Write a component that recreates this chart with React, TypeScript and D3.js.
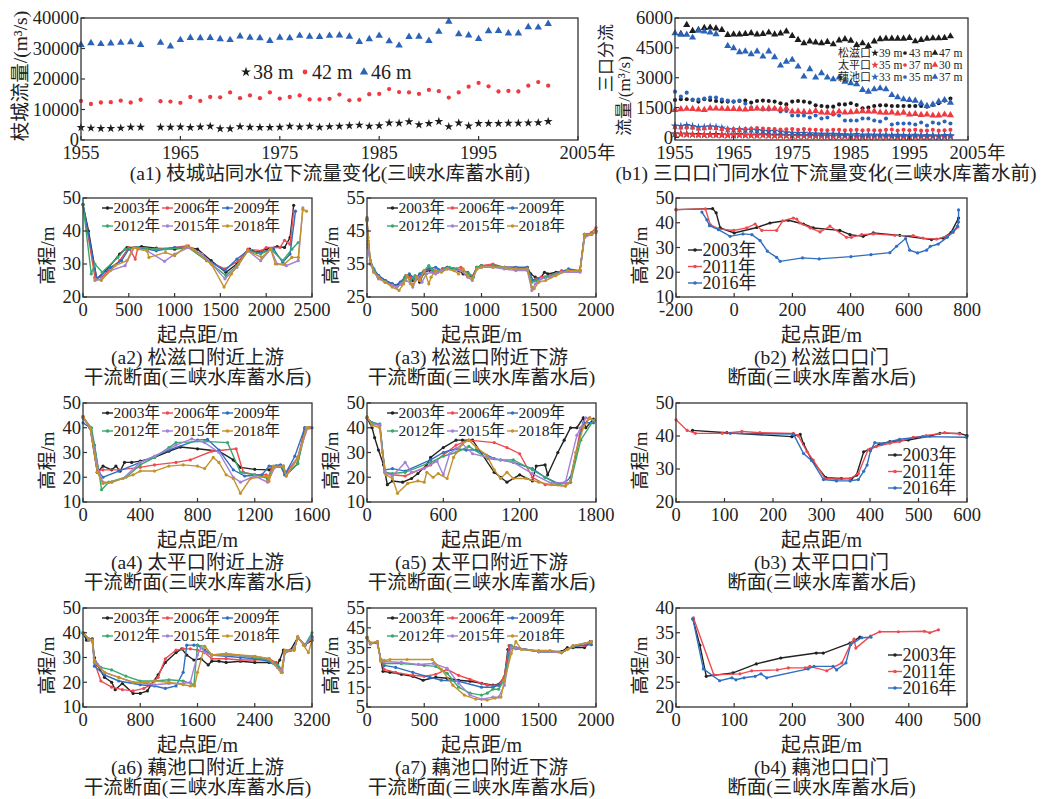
import * as React from "react";
import * as d3 from "d3";

type Pt = [number, number];

const SERIF = "'Liberation Serif','Noto Sans CJK SC',serif";
const INK = "#222";
const AXIS = "#333";

// ---------- (a1) 枝城站: year, flow (thousand m3/s) ----------
const A1_YEARS = d3.range(1955, 2003).filter((y) => y !== 1962);
const A1_38M = [4.1, 3.9, 3.8, 3.8, 3.9, 4.2, 4.2, 4.2, 4.2, 4.3, 4.1, 4.3, 4.5, 3.7, 3.7, 4.4, 4.2, 4.1, 4.1, 4.2, 4.5, 4.3, 4.5, 4.2, 4.4, 4.5, 4.7, 4.9, 4.5, 4.7, 5.6, 5.5, 6.0, 5.0, 5.4, 6.1, 4.4, 5.6, 4.6, 5.4, 5.4, 5.4, 5.5, 5.5, 5.6, 5.7, 6.1];
const A1_42M = [12.8, 11.8, 12.3, 12.4, 12.9, 12.3, 13.2, 12.7, 12.6, 12.2, 14.1, 12.8, 14.1, 14.0, 15.6, 13.7, 14.6, 13.7, 15.6, 13.6, 14.1, 14.6, 13.3, 13.3, 13.5, 14.9, 13.0, 13.2, 15.0, 15.1, 16.7, 15.7, 15.6, 15.1, 16.4, 16.0, 13.9, 15.6, 17.5, 18.7, 17.6, 15.9, 16.1, 15.9, 17.8, 19.0, 17.8];
const A1_46M = [31.2, 31.8, 31.5, 31.7, 31.9, 32.1, 31.2, 31.9, 30.7, 32.8, 33.5, 33.4, 33.5, 33.1, 32.8, 34.0, 33.6, 33.4, 32.5, 33.6, 33.4, 34.2, 33.9, 33.8, 34.2, 34.3, 33.9, 32.2, 33.1, 34.2, 32.4, 31.0, 33.8, 33.9, 32.5, 35.5, 38.8, 34.7, 34.3, 33.2, 35.7, 35.8, 35.0, 35.0, 37.0, 36.9, 38.1];
const A1_Y_TICKS = [0, 10, 20, 30, 40];
const YEAR_TICKS = [1955, 1965, 1975, 1985, 1995, 2005];

// ---------- (b1) 三口口门 (m3/s), 1955-2002 ----------
const B1_YEARS = d3.range(1955, 2003);
const SZ_39 = [180, 170, 170, 150, 150, 130, 140, 150, 130, 120, 130, 140, 120, 110, 120, 130, 110, 100, 110, 90, 100, 90, 80, 90, 70, 80, 70, 60, 70, 80, 60, 50, 40, 60, 50, 60, 50, 50, 40, 50, 40, 50, 50, 40, 50, 40, 50, 60];
const SZ_43 = [1880, 1915, 1915, 1880, 1800, 1915, 1880, 1830, 1800, 1800, 1800, 1830, 1850, 1750, 1830, 1850, 1830, 1800, 1715, 1660, 1800, 1830, 1800, 1750, 1610, 1580, 1545, 1545, 1660, 1660, 1715, 1630, 1460, 1500, 1580, 1610, 1610, 1580, 1580, 1580, 1580, 1580, 1580, 1545, 1630, 1715, 1850, 1950];
const SZ_47_YEARS = d3.range(1956, 2003);
const SZ_47 = [5200, 5650, 5350, 5400, 5500, 5520, 5480, 5400, 5150, 5180, 5180, 5200, 5240, 5180, 5200, 5270, 5180, 5230, 5330, 5100, 4900, 4730, 4820, 4770, 4740, 4800, 4680, 4870, 4940, 4860, 4640, 4730, 4600, 4820, 4940, 4960, 4960, 4960, 4960, 5000, 4830, 4900, 4960, 4980, 4980, 5000, 5080];
const TP_35 = [160, 150, 140, 140, 120, 130, 120, 110, 110, 100, 100, 110, 100, 100, 90, 100, 90, 80, 80, 90, 80, 70, 80, 70, 70, 60, 60, 60, 70, 60, 60, 50, 50, 60, 50, 50, 40, 50, 50, 40, 40, 50, 40, 40, 50, 40, 40, 50];
const TP_37 = [480, 470, 480, 470, 420, 440, 470, 450, 400, 420, 420, 410, 430, 450, 470, 440, 430, 420, 400, 410, 420, 380, 420, 400, 380, 370, 360, 380, 380, 360, 370, 380, 360, 370, 360, 350, 380, 400, 350, 380, 360, 380, 340, 350, 380, 340, 360, 380];
const TP_30 = [1380, 1420, 1440, 1430, 1400, 1380, 1460, 1450, 1440, 1430, 1430, 1420, 1400, 1430, 1460, 1440, 1460, 1440, 1420, 1450, 1300, 1310, 1280, 1270, 1330, 1250, 1240, 1230, 1300, 1250, 1270, 1290, 1320, 1300, 1310, 1250, 1240, 1260, 1200, 1240, 1150, 1180, 1130, 1150, 1100, 1110, 1150, 1120];
const OC_33 = [580, 560, 600, 560, 500, 520, 540, 520, 480, 400, 380, 400, 360, 380, 350, 320, 300, 320, 280, 240, 220, 200, 210, 190, 180, 170, 160, 170, 150, 140, 130, 150, 120, 130, 120, 110, 120, 100, 110, 100, 90, 110, 90, 100, 90, 80, 100, 90];
const OC_35 = [2300, 2050, 2250, 1900, 1900, 1950, 2000, 2000, 1900, 1850, 1800, 1850, 1700, 1500, 1450, 1400, 1400, 1450, 1300, 1330, 1100, 1100, 1100, 1000, 1100, 950, 1000, 1150, 1100, 850, 850, 850, 950, 950, 850, 800, 950, 650, 700, 700, 700, 650, 750, 600, 750, 700, 800, 700];
const OC_37_YEARS = d3.range(1955, 2003).filter((y) => y !== 1963);
const OC_37 = [5240, 5160, 5160, 5020, 5360, 5325, 5275, 5190, 4600, 4485, 4285, 4320, 4180, 4320, 4065, 4320, 4030, 3610, 3810, 3900, 3560, 3060, 3430, 3010, 3225, 3010, 2920, 3010, 2800, 2720, 2670, 2385, 2300, 2420, 2470, 2420, 2130, 2015, 1915, 1880, 1850, 1710, 1580, 1660, 1800, 1880, 1750];
const B1_Y_TICKS = [0, 1500, 3000, 4500, 6000];

// ---------- profile sections (起点距 m, 高程 m) ----------
const YEARS_A = ["2003年", "2006年", "2009年", "2012年", "2015年", "2018年"];
const COLORS_A = ["#222222", "#ef4a50", "#2f6fc2", "#3aa86c", "#a281d8", "#c4922c"];
const YEARS_B = ["2003年", "2011年", "2016年"];
const COLORS_B = ["#222222", "#ef4a50", "#2f6fc2"];

const A2_2003: Pt[] = [[0, 48], [60, 40], [150, 25.5], [250, 28], [400, 33], [480, 35], [560, 35], [640, 35.3], [800, 34.8], [1000, 34.5], [1150, 35], [1250, 34.5], [1400, 31], [1560, 27.5], [1680, 30], [1820, 34.5], [1900, 33.5], [2000, 34.5], [2120, 35.3], [2200, 35], [2260, 38], [2300, 47.8]];
const A2_2006: Pt[] = [[0, 48], [130, 26], [200, 26], [400, 31], [500, 35], [570, 31.5], [600, 35], [800, 34.5], [1000, 35], [1150, 35.5], [1350, 31], [1550, 28.5], [1700, 31], [1800, 34.5], [1950, 34], [2000, 35], [2150, 35], [2200, 37.2], [2260, 36], [2300, 46]];
const A2_2009: Pt[] = [[0, 48], [150, 25.5], [300, 29], [420, 31], [500, 34.5], [600, 35], [800, 34], [1000, 35], [1150, 35], [1400, 30.5], [1550, 28], [1680, 31.5], [1800, 34], [1950, 33.5], [2080, 34.5], [2180, 30.5], [2260, 33], [2320, 46]];
const A2_2012: Pt[] = [[0, 48], [90, 27], [130, 30], [210, 27.5], [380, 32], [460, 34.5], [600, 35], [800, 34.5], [900, 34.5], [1150, 35], [1400, 30], [1560, 26.5], [1680, 29.5], [1800, 34], [1940, 33], [2050, 34.5], [2180, 31], [2280, 34.5], [2350, 36.5]];
const A2_2015: Pt[] = [[130, 25], [200, 25.5], [300, 28], [460, 29.5], [560, 35], [700, 34], [890, 30.8], [1000, 33], [1150, 35], [1300, 33], [1420, 29.5], [1550, 25.5], [1680, 29], [1800, 34], [1940, 31], [2050, 34.5], [2120, 30], [2220, 29.5], [2350, 31], [2400, 47]];
const A2_2018: Pt[] = [[130, 25.5], [200, 25], [350, 29.5], [480, 31], [550, 35], [600, 34.5], [700, 34], [720, 32], [900, 33.5], [1000, 32.5], [1130, 35.5], [1200, 34.5], [1400, 30], [1540, 23], [1620, 27], [1700, 30], [1800, 34], [1950, 32], [2050, 34.5], [2100, 30], [2200, 30], [2280, 32], [2350, 32], [2400, 46.5], [2440, 46]];

const A3_2003: Pt[] = [[0, 48.5], [12, 40], [30, 35], [60, 33], [100, 31.5], [160, 30], [220, 29], [260, 28.5], [300, 29.5], [340, 31], [370, 31.5], [400, 30], [430, 31], [460, 29.5], [490, 32], [520, 33], [550, 33], [580, 32.5], [620, 33], [660, 33.5], [700, 34], [750, 33.5], [800, 33], [840, 32], [880, 31.5], [920, 31], [960, 34], [1000, 34.5], [1100, 34.5], [1200, 34], [1300, 33.5], [1400, 34], [1430, 32], [1470, 31], [1510, 30.5], [1550, 32.5], [1580, 32], [1650, 32.5], [1750, 33], [1860, 33], [1900, 44], [1960, 44], [2000, 45]];
const A3_2006: Pt[] = [[0, 49], [12, 41], [30, 36], [60, 33], [100, 31], [160, 29.5], [220, 28.5], [260, 28], [300, 29], [340, 31.5], [380, 31], [420, 30], [460, 31], [500, 32.5], [540, 33.5], [580, 33], [620, 32.5], [660, 33.5], [700, 34], [760, 33.5], [820, 34], [880, 32], [930, 31.5], [960, 34], [1000, 34.5], [1100, 35], [1200, 34], [1300, 34], [1400, 33.5], [1440, 30], [1480, 30.5], [1520, 31], [1600, 31.5], [1700, 33], [1860, 33], [1900, 43.5], [1960, 44.5], [2000, 46]];
const A3_2009: Pt[] = [[0, 48], [10, 42], [30, 36], [60, 33.5], [100, 31.5], [160, 30], [220, 29], [250, 28.5], [290, 29.5], [330, 31], [370, 32], [420, 30.5], [460, 32], [500, 33], [540, 33.5], [600, 34], [660, 33], [700, 34], [760, 33.5], [820, 33], [880, 32.5], [920, 31], [960, 34], [1000, 34.5], [1100, 34.5], [1200, 34], [1300, 34], [1400, 34], [1450, 30], [1500, 30.5], [1560, 31], [1650, 32], [1760, 33.5], [1860, 33], [1900, 44], [1960, 44], [2000, 45]];
const A3_2012: Pt[] = [[0, 48.5], [10, 41], [30, 35.5], [60, 33], [100, 31], [160, 29.5], [220, 28.5], [260, 28], [300, 29], [340, 31.5], [380, 30], [420, 31.5], [470, 30], [500, 33], [540, 34.5], [580, 33], [620, 33], [680, 33.5], [720, 34], [780, 33.5], [840, 33], [890, 32], [930, 31], [960, 34], [1000, 34.5], [1100, 34.5], [1200, 34], [1300, 33.5], [1400, 33.5], [1440, 29.5], [1480, 30], [1550, 31], [1650, 32], [1760, 33], [1860, 33], [1900, 43.5], [1960, 44], [2000, 45]];
const A3_2015: Pt[] = [[0, 49], [10, 40], [30, 35], [60, 32.5], [100, 30.5], [160, 29.5], [220, 28.5], [260, 28], [300, 29], [340, 30], [390, 29], [400, 28], [440, 31], [480, 29.5], [520, 32], [560, 32.5], [600, 32], [650, 33], [700, 33.5], [760, 33], [820, 33], [880, 31], [920, 30], [960, 33.5], [1000, 34], [1100, 34], [1200, 33.5], [1300, 33], [1400, 33], [1440, 27], [1470, 29], [1520, 30.5], [1600, 31], [1700, 32.5], [1860, 32.5], [1900, 43], [1960, 44], [2000, 44.5]];
const A3_2018: Pt[] = [[0, 49], [10, 43], [30, 36], [60, 32.5], [100, 31], [160, 29.5], [220, 28], [280, 27], [320, 29], [350, 31.5], [380, 29], [400, 28.5], [430, 31], [460, 30], [500, 33], [540, 29], [560, 31], [600, 33], [650, 32.5], [700, 33.5], [760, 33], [800, 32], [840, 33.5], [880, 31.5], [920, 30.5], [960, 33.5], [1000, 34], [1100, 34], [1200, 34], [1300, 33.5], [1400, 33.5], [1440, 28], [1460, 27.5], [1500, 29.5], [1560, 30], [1650, 31.5], [1750, 33], [1860, 33], [1900, 44], [1960, 44], [2000, 45]];

const A4_2003: Pt[] = [[0, 44.5], [50, 40], [100, 22], [140, 24.5], [200, 23], [230, 24.5], [260, 22.5], [290, 26], [340, 26], [400, 26.5], [500, 28], [600, 30.5], [680, 32.2], [800, 31.5], [950, 30.5], [1050, 27], [1100, 24], [1200, 23.2], [1300, 23], [1350, 24.5], [1400, 24.5], [1420, 21], [1500, 25.5], [1550, 40], [1580, 40]];
const A4_2006: Pt[] = [[0, 44.5], [50, 40], [100, 22.5], [140, 23], [250, 23], [400, 24], [500, 25], [650, 26], [750, 27], [900, 30.5], [1070, 31.5], [1120, 22], [1200, 21], [1280, 21], [1290, 19], [1320, 24], [1380, 24.5], [1410, 21], [1500, 28], [1550, 39], [1590, 40]];
const A4_2009: Pt[] = [[0, 42], [50, 40], [80, 33], [110, 22], [140, 20], [250, 22.5], [400, 26], [600, 31], [800, 35], [870, 35.3], [950, 31], [1050, 23], [1130, 20.5], [1250, 21], [1300, 24.5], [1380, 25], [1410, 21], [1480, 28.5], [1550, 40], [1600, 40]];
const A4_2012: Pt[] = [[0, 44], [60, 40], [110, 22.5], [130, 15], [180, 18], [300, 20], [400, 25], [500, 28], [600, 32], [650, 34], [850, 34.5], [1010, 34], [1100, 22], [1200, 21], [1290, 19.5], [1330, 24], [1400, 24], [1420, 21], [1500, 25.5], [1560, 40]];
const A4_2015: Pt[] = [[0, 44], [50, 40], [110, 22], [140, 18], [200, 18], [280, 19.5], [400, 26], [500, 28.5], [650, 33], [760, 35.5], [850, 34], [950, 30], [1050, 20], [1100, 18], [1200, 20.5], [1290, 18], [1340, 24], [1400, 24.5], [1420, 20.5], [1500, 28], [1570, 40]];
const A4_2018: Pt[] = [[0, 44.5], [50, 40], [100, 22], [140, 17.5], [200, 18], [350, 21], [400, 22.5], [500, 22.5], [600, 24.5], [700, 25], [800, 24.5], [850, 23.5], [910, 28], [950, 26], [1000, 21], [1050, 19.5], [1100, 13.5], [1170, 19.5], [1290, 20.5], [1300, 18.5], [1330, 24.5], [1400, 24.5], [1420, 20.5], [1500, 27.5], [1560, 40], [1580, 40]];

const A5_2003: Pt[] = [[0, 44], [40, 40], [60, 36], [90, 31], [130, 25], [160, 17], [200, 18.5], [280, 18], [350, 19.5], [400, 21.5], [470, 25], [500, 28], [600, 32], [700, 35], [750, 35], [830, 35], [1000, 22], [1050, 20], [1100, 18], [1200, 21], [1300, 18.5], [1330, 24.5], [1400, 25], [1420, 21], [1500, 30], [1550, 35], [1600, 40], [1650, 40], [1700, 44], [1720, 40], [1780, 43.5]];
const A5_2006: Pt[] = [[0, 44], [40, 42], [100, 41], [140, 22], [200, 21], [300, 20.5], [500, 25], [700, 33], [800, 35], [1000, 34], [1100, 32], [1200, 29.5], [1300, 20], [1400, 17], [1560, 16.5], [1600, 18], [1680, 40], [1750, 44]];
const A5_2009: Pt[] = [[0, 44], [40, 42], [100, 41.5], [140, 23], [200, 23.5], [300, 22.5], [500, 27], [600, 30], [700, 31.5], [780, 31], [860, 31], [1000, 27.5], [1150, 26], [1300, 23.5], [1400, 20], [1500, 17.5], [1560, 18], [1600, 20], [1700, 42], [1780, 42]];
const A5_2012: Pt[] = [[0, 44], [40, 42], [100, 41.5], [140, 22], [200, 21.5], [300, 22], [500, 26], [600, 28.5], [700, 30], [800, 32.5], [950, 27.5], [1050, 27], [1150, 27], [1300, 23], [1400, 20], [1500, 17], [1600, 18], [1680, 35], [1780, 43]];
const A5_2015: Pt[] = [[0, 44], [40, 41.5], [100, 41], [140, 22], [200, 20.5], [300, 26], [350, 22], [450, 23.5], [550, 26.5], [600, 21], [650, 29.5], [750, 33.5], [830, 29.5], [950, 28], [1050, 27], [1150, 26], [1300, 21.5], [1450, 17.5], [1560, 18], [1650, 37], [1720, 44], [1790, 43]];
const A5_2018: Pt[] = [[0, 44.5], [40, 41], [100, 40], [120, 30], [150, 21], [200, 19.5], [240, 13.5], [320, 17.5], [400, 18.5], [450, 18], [470, 22], [520, 20], [560, 21.5], [630, 19.5], [680, 28], [750, 33.5], [800, 35], [860, 32], [940, 29], [1000, 23], [1050, 19.5], [1100, 22], [1150, 19.5], [1250, 19.5], [1350, 18], [1450, 17], [1560, 16.5], [1600, 18.5], [1640, 30], [1700, 40], [1750, 44], [1790, 43]];

const A6_2003: Pt[] = [[0, 40], [50, 37], [130, 37.5], [160, 30], [200, 27], [300, 22], [400, 20], [450, 17], [550, 19.5], [700, 15.5], [800, 15.5], [900, 16.5], [950, 19], [1050, 23], [1150, 28], [1300, 32], [1380, 33.5], [1450, 31], [1550, 29], [1650, 29.5], [1750, 27], [1800, 28.5], [1900, 28.5], [2000, 28], [2200, 28.5], [2400, 28], [2600, 28], [2720, 27.5], [2750, 29], [2800, 33], [2900, 33], [3000, 38], [3100, 35], [3200, 37]];
const A6_2006: Pt[] = [[0, 40], [80, 37.5], [130, 37], [160, 28], [250, 20.5], [400, 18], [550, 17], [700, 16.5], [850, 17.5], [950, 19], [1050, 22], [1150, 29.5], [1300, 33], [1400, 33.5], [1500, 33.5], [1600, 33], [1700, 32], [1800, 29.5], [2000, 29.5], [2200, 29], [2400, 29], [2600, 29.5], [2700, 28], [2780, 25], [2820, 32], [2950, 33], [3000, 38], [3100, 35], [3200, 38]];
const A6_2009: Pt[] = [[0, 40], [80, 37], [130, 37], [160, 26.5], [300, 23], [500, 20.5], [800, 19], [1000, 18.5], [1150, 17.5], [1300, 18.5], [1400, 24], [1450, 35], [1550, 35], [1600, 35], [1700, 33], [1800, 31], [2000, 30.5], [2200, 30], [2400, 29.5], [2600, 28.5], [2720, 26], [2780, 24], [2820, 32], [2950, 33.5], [3000, 38], [3100, 35], [3200, 38.5]];
const A6_2012: Pt[] = [[0, 40], [80, 37.5], [130, 37], [160, 29], [250, 26], [400, 25], [600, 22.5], [800, 20.5], [1000, 20.5], [1200, 21], [1400, 20.5], [1550, 19], [1600, 35], [1700, 34.5], [1800, 31], [2000, 31.5], [2400, 30], [2600, 29], [2720, 27], [2780, 24], [2820, 32], [2950, 33.5], [3000, 38], [3100, 35], [3200, 40]];
const A6_2015: Pt[] = [[0, 40], [80, 37.5], [130, 36.5], [160, 29], [300, 24], [500, 22], [700, 20], [900, 19.5], [1000, 19], [1200, 19.5], [1400, 19.5], [1500, 20], [1600, 31], [1650, 34], [1700, 32], [1800, 31], [2000, 31], [2400, 30.5], [2600, 29.5], [2750, 25], [2780, 24], [2820, 32], [2950, 33.5], [3000, 38], [3100, 35], [3200, 38]];
const A6_2018: Pt[] = [[0, 40], [80, 37.5], [130, 37], [160, 28], [300, 24], [500, 22], [700, 20], [900, 20], [1000, 20.5], [1200, 20], [1400, 19], [1500, 18.5], [1560, 18.5], [1600, 24], [1700, 34.5], [1800, 31], [2000, 31.5], [2400, 30.5], [2600, 29.5], [2770, 24], [2820, 33], [2950, 33], [3000, 38.5], [3080, 35], [3150, 32], [3200, 37]];

const A7_2003: Pt[] = [[0, 40], [30, 37], [90, 37.5], [120, 29], [140, 23], [200, 22.5], [300, 21.5], [400, 20.5], [490, 18.5], [600, 20], [700, 19.5], [800, 18.5], [900, 18], [1000, 17], [1100, 16], [1150, 16.5], [1200, 20], [1230, 34], [1300, 35], [1500, 33], [1700, 33], [1750, 35], [1800, 35], [1900, 35], [1950, 38]];
const A7_2006: Pt[] = [[0, 40], [30, 37], [90, 38], [120, 29], [150, 24], [250, 22.5], [400, 21], [500, 20.5], [600, 21.5], [700, 24], [800, 21], [900, 19], [1050, 16], [1150, 16], [1200, 20.5], [1240, 36], [1300, 34.5], [1500, 33], [1700, 32.5], [1800, 35.5], [1900, 36], [1960, 38]];
const A7_2009: Pt[] = [[0, 40], [30, 37], [90, 37.5], [120, 29], [150, 26], [250, 25], [400, 22.5], [550, 20], [650, 18.5], [800, 18], [1000, 15], [1100, 15], [1150, 16], [1200, 18], [1250, 36], [1300, 35], [1500, 33], [1700, 32.5], [1800, 35.5], [1960, 36.5]];
const A7_2012: Pt[] = [[0, 40], [30, 37], [90, 37.5], [120, 29], [150, 27], [300, 27], [500, 26], [600, 25.5], [700, 22], [800, 15], [900, 12], [1000, 11], [1050, 12], [1100, 14], [1150, 14], [1200, 19], [1260, 36], [1300, 34.5], [1500, 33], [1700, 32.5], [1800, 35.5], [1960, 38]];
const A7_2015: Pt[] = [[0, 40], [30, 37], [90, 38], [120, 29], [150, 28], [300, 27.5], [450, 26.5], [580, 27], [700, 24.5], [800, 17], [900, 11], [1000, 9], [1100, 10], [1150, 10], [1200, 16], [1260, 35], [1300, 35], [1500, 33], [1700, 32.5], [1800, 36], [1960, 38]];
const A7_2018: Pt[] = [[0, 40], [30, 37.5], [90, 38], [120, 28], [150, 28.5], [200, 29], [350, 29], [570, 29], [650, 24], [750, 16], [850, 11], [950, 9], [1050, 8.5], [1120, 9.5], [1170, 10], [1200, 18.5], [1260, 32], [1300, 38], [1350, 34], [1500, 33.5], [1600, 33.5], [1700, 32.5], [1750, 34], [1800, 36], [1960, 38]];

const B2_2003: Pt[] = [[-200, 45.3], [-74, 45.7], [-62, 44], [-48, 37.9], [0, 35.9], [78, 38.1], [123, 39.9], [186, 41], [238, 39.5], [272, 37.9], [363, 36.9], [398, 35.2], [443, 34.5], [478, 35.9], [569, 34.9], [678, 33.2], [718, 33.8], [745, 36], [771, 41.9]];
const B2_2011: Pt[] = [[-200, 45.3], [-99, 45.6], [-82, 39.2], [-54, 37.5], [-2, 36.9], [43, 37.9], [72, 39.5], [95, 36.9], [146, 36.9], [167, 40.8], [203, 41.9], [215, 41.5], [226, 39.9], [261, 37.9], [295, 36.3], [329, 38.6], [386, 34.1], [403, 34.1], [438, 35.2], [478, 35.5], [552, 34.9], [615, 34.8], [649, 33.8], [695, 33.4], [729, 34.5], [752, 36.1], [769, 38.3]];
const B2_2016: Pt[] = [[-111, 44.3], [-94, 41.2], [-85, 38.8], [-54, 37.2], [-14, 34.5], [30, 35.5], [61, 35.2], [89, 32.8], [114, 28.5], [146, 26], [158, 24.4], [235, 25.8], [292, 25.4], [401, 26.3], [470, 27.1], [535, 27.9], [558, 30.5], [589, 33.6], [603, 28.9], [630, 27.8], [661, 28.9], [674, 30.5], [701, 31.4], [732, 34.1], [752, 36.5], [767, 38.6], [771, 40.3], [771, 45.2]];

const B3_2003: Pt[] = [[34, 41.7], [105, 41], [239, 39.8], [256, 40.5], [263, 37.6], [280, 32.7], [309, 27.4], [341, 27.1], [362, 27.1], [372, 28.1], [387, 35.2], [401, 36], [420, 37.6], [441, 38.3], [479, 38.8], [523, 40], [544, 40.8], [585, 40.8], [600, 40.1]];
const B3_2011: Pt[] = [[0, 44.9], [23, 41.7], [40, 40.8], [95, 40.8], [136, 41.4], [173, 41], [242, 40.8], [252, 40.1], [270, 35.3], [283, 32.7], [307, 27.1], [331, 26.9], [359, 27.1], [376, 28.6], [396, 35.8], [413, 36.8], [441, 37.8], [461, 38.3], [489, 39.6], [516, 40.1], [554, 41], [585, 40.6]];
const B3_2016: Pt[] = [[112, 40.8], [242, 40.6], [263, 34.7], [280, 32.5], [304, 26.8], [331, 26.4], [359, 26.4], [376, 26.8], [387, 29.3], [394, 31.2], [401, 35.5], [410, 38], [424, 37.6], [461, 39], [509, 39.8], [599, 39.6]];

const B4_2003: Pt[] = [[29, 37.8], [41, 32.5], [52, 26.2], [98, 26.9], [138, 28.7], [180, 29.9], [241, 30.9], [253, 30.9], [299, 32.9], [316, 34.1]];
const B4_2011: Pt[] = [[30, 38], [65, 26.5], [110, 26.7], [130, 27.3], [174, 27.5], [193, 27.9], [222, 27.9], [230, 28.2], [259, 27.3], [285, 28.9], [300, 32.7], [306, 33.7], [309, 31.9], [334, 34.3], [350, 35.2], [382, 35.2], [427, 35.3], [436, 35], [451, 35.6]];
const B4_2016: Pt[] = [[29, 37.8], [47, 27.7], [75, 25.3], [96, 25.9], [103, 25.5], [117, 25.9], [136, 26.2], [146, 26.7], [156, 25.9], [227, 27.7], [237, 28.2], [270, 28.2], [276, 27.5], [292, 28.9], [300, 32.6], [319, 34], [335, 34.1]];

interface PanelSpec {
  box: [number, number, number, number];
  xDomain: [number, number];
  xTicks: number[];
  yDomain: [number, number];
  yTicks: number[];
  data: Pt[][];
  labels: string[];
  colors: string[];
  legend: "grid" | "stack";
  legendAt: [number, number];
  caption: [string, string];
}

const PANELS: PanelSpec[] = [
  { box: [83, 312, 198, 297], xDomain: [0, 2500], xTicks: [0, 500, 1000, 1500, 2000, 2500], yDomain: [20, 50], yTicks: [20, 30, 40, 50],
    data: [A2_2003, A2_2006, A2_2009, A2_2012, A2_2015, A2_2018], labels: YEARS_A, colors: COLORS_A, legend: "grid", legendAt: [102, 208], caption: ["(a2) 松滋口附近上游", "干流断面(三峡水库蓄水后)"] },
  { box: [367, 596, 198, 297], xDomain: [0, 2000], xTicks: [0, 500, 1000, 1500, 2000], yDomain: [25, 55], yTicks: [25, 35, 45, 55],
    data: [A3_2003, A3_2006, A3_2009, A3_2012, A3_2015, A3_2018], labels: YEARS_A, colors: COLORS_A, legend: "grid", legendAt: [387, 208], caption: ["(a3) 松滋口附近下游", "干流断面(三峡水库蓄水后)"] },
  { box: [676, 967, 198, 297], xDomain: [-200, 800], xTicks: [-200, 0, 200, 400, 600, 800], yDomain: [10, 50], yTicks: [10, 20, 30, 40, 50],
    data: [B2_2003, B2_2011, B2_2016], labels: YEARS_B, colors: COLORS_B, legend: "stack", legendAt: [688, 250], caption: ["(b2) 松滋口口门", "断面(三峡水库蓄水后)"] },
  { box: [83, 312, 403, 502], xDomain: [0, 1600], xTicks: [0, 400, 800, 1200, 1600], yDomain: [10, 50], yTicks: [10, 20, 30, 40, 50],
    data: [A4_2003, A4_2006, A4_2009, A4_2012, A4_2015, A4_2018], labels: YEARS_A, colors: COLORS_A, legend: "grid", legendAt: [102, 413], caption: ["(a4) 太平口附近上游", "干流断面(三峡水库蓄水后)"] },
  { box: [367, 596, 403, 502], xDomain: [0, 1800], xTicks: [0, 600, 1200, 1800], yDomain: [10, 50], yTicks: [10, 20, 30, 40, 50],
    data: [A5_2003, A5_2006, A5_2009, A5_2012, A5_2015, A5_2018], labels: YEARS_A, colors: COLORS_A, legend: "grid", legendAt: [387, 413], caption: ["(a5) 太平口附近下游", "干流断面(三峡水库蓄水后)"] },
  { box: [676, 967, 403, 502], xDomain: [0, 600], xTicks: [0, 100, 200, 300, 400, 500, 600], yDomain: [20, 50], yTicks: [20, 30, 40, 50],
    data: [B3_2003, B3_2011, B3_2016], labels: YEARS_B, colors: COLORS_B, legend: "stack", legendAt: [888, 455], caption: ["(b3) 太平口口门", "断面(三峡水库蓄水后)"] },
  { box: [83, 312, 608, 707], xDomain: [0, 3200], xTicks: [0, 800, 1600, 2400, 3200], yDomain: [10, 50], yTicks: [10, 20, 30, 40, 50],
    data: [A6_2003, A6_2006, A6_2009, A6_2012, A6_2015, A6_2018], labels: YEARS_A, colors: COLORS_A, legend: "grid", legendAt: [102, 618], caption: ["(a6) 藕池口附近上游", "干流断面(三峡水库蓄水后)"] },
  { box: [367, 596, 608, 707], xDomain: [0, 2000], xTicks: [0, 500, 1000, 1500, 2000], yDomain: [5, 55], yTicks: [5, 15, 25, 35, 45, 55],
    data: [A7_2003, A7_2006, A7_2009, A7_2012, A7_2015, A7_2018], labels: YEARS_A, colors: COLORS_A, legend: "grid", legendAt: [387, 618], caption: ["(a7) 藕池口附近下游", "干流断面(三峡水库蓄水后)"] },
  { box: [676, 967, 608, 707], xDomain: [0, 500], xTicks: [0, 100, 200, 300, 400, 500], yDomain: [20, 40], yTicks: [20, 25, 30, 35, 40],
    data: [B4_2003, B4_2011, B4_2016], labels: YEARS_B, colors: COLORS_B, legend: "stack", legendAt: [888, 655], caption: ["(b4) 藕池口口门", "断面(三峡水库蓄水后)"] },
];

function Frame({ x, y, xTicks, yTicks, yFmt = (v: number) => String(v), yearSuffix = false, tickFont = 18.5 }: {
  x: d3.ScaleLinear<number, number>; y: d3.ScaleLinear<number, number>; xTicks: number[]; yTicks: number[];
  yFmt?: (v: number) => string; yearSuffix?: boolean; tickFont?: number;
}) {
  const [l, r] = x.range();
  const [b, t] = y.range();
  return (
    <g>
      <rect x={l} y={t} width={r - l} height={b - t} fill="none" stroke={AXIS} strokeWidth={1.3} />
      {xTicks.map((v, i) => (
        <g key={`x${v}`}>
          <line x1={x(v)} x2={x(v)} y1={b} y2={b - 4} stroke={AXIS} strokeWidth={1.2} />
          <text x={x(v)} y={b + 13} dy="0.35em" textAnchor="middle" fontSize={tickFont}>{v}</text>
          {yearSuffix && i === xTicks.length - 1 && (
            <text x={x(v) + 19} y={b + 13} dy="0.35em" fontSize={tickFont}>年</text>
          )}
        </g>
      ))}
      {yTicks.map((v) => (
        <g key={`y${v}`}>
          <line x1={l} x2={l + 4} y1={y(v)} y2={y(v)} stroke={AXIS} strokeWidth={1.2} />
          <text x={l - 2} y={y(v)} dy="0.35em" textAnchor="end" fontSize={tickFont}>{yFmt(v)}</text>
        </g>
      ))}
    </g>
  );
}

function Profile({ spec }: { spec: PanelSpec }) {
  const [l, r, t, b] = spec.box;
  const x = d3.scaleLinear().domain(spec.xDomain).range([l, r]);
  const y = d3.scaleLinear().domain(spec.yDomain).range([b, t]);
  const line = d3.line<Pt>().x((d) => x(d[0])).y((d) => y(d[1]));
  const cx = (l + r) / 2;
  return (
    <g>
      {spec.data.map((pts, i) => (
        <g key={spec.labels[i]}>
          <path d={line(pts) ?? ""} fill="none" stroke={spec.colors[i]} strokeWidth={1.4} />
          {pts.map((p, j) => (
            <circle key={j} cx={x(p[0])} cy={y(p[1])} r={1.6} fill={spec.colors[i]} />
          ))}
        </g>
      ))}
      <Frame x={x} y={y} xTicks={spec.xTicks} yTicks={spec.yTicks} />
      {spec.labels.map((lab, i) => {
        const grid = spec.legend === "grid";
        const lx = grid ? spec.legendAt[0] + (i % 3) * 60 : spec.legendAt[0];
        const ly = grid ? spec.legendAt[1] + Math.floor(i / 3) * 18 : spec.legendAt[1] + i * 16.5;
        const w = grid ? 11 : 14;
        return (
          <g key={`lg${lab}`}>
            <line x1={lx} x2={lx + w} y1={ly} y2={ly} stroke={spec.colors[i]} strokeWidth={1.4} />
            <circle cx={lx + w / 2} cy={ly} r={1.8} fill={spec.colors[i]} />
            <text x={lx + w + 0.5} y={ly} dy="0.35em" fontSize={grid ? 15.5 : 18}>{lab}</text>
          </g>
        );
      })}
      <text transform={`translate(${l - 36},${(t + b) / 2 + 8}) rotate(-90)`} textAnchor="middle" dy="0.35em" fontSize={19}>高程/m</text>
      <text x={cx} y={b + 38} dy="0.35em" textAnchor="middle" fontSize={20}>起点距/m</text>
      <text x={cx} y={b + 60} dy="0.35em" textAnchor="middle" fontSize={19.5}>{spec.caption[0]}</text>
      <text x={cx} y={b + 80} dy="0.35em" textAnchor="middle" fontSize={19.5}>{spec.caption[1]}</text>
    </g>
  );
}

const BLACK = "#1c1c1c";
const RED = "#ee3b41";
const BLUE = "#2b63b8";

function Marker({ kind, x, y, color, size }: { kind: "star" | "circle" | "tri"; x: number; y: number; color: string; size: number }) {
  const type = kind === "star" ? d3.symbolStar : kind === "circle" ? d3.symbolCircle : d3.symbolTriangle;
  const s = kind === "circle" ? size * 0.6 : size;
  return <path d={d3.symbol().type(type).size(s)() ?? ""} transform={`translate(${x},${y})`} fill={color} />;
}

function PanelA1() {
  const x = d3.scaleLinear().domain([1955, 2005]).range([81, 578]);
  const y = d3.scaleLinear().domain([0, 40]).range([140, 18]);
  const sets: { vals: number[]; kind: "star" | "circle" | "tri"; color: string; label: string }[] = [
    { vals: A1_38M, kind: "star", color: BLACK, label: "38 m" },
    { vals: A1_42M, kind: "circle", color: RED, label: "42 m" },
    { vals: A1_46M, kind: "tri", color: BLUE, label: "46 m" },
  ];
  return (
    <g>
      {sets.map((s) =>
        s.vals.map((v, i) => (
          <Marker key={`${s.label}${i}`} kind={s.kind} x={x(A1_YEARS[i])} y={y(v)} color={s.color} size={24} />
        )),
      )}
      <Frame x={x} y={y} xTicks={YEAR_TICKS} yTicks={A1_Y_TICKS} yFmt={(v) => String(v * 1000)} yearSuffix tickFont={18.5} />
      {sets.map((s, i) => (
        <g key={`l${s.label}`}>
          <Marker kind={s.kind} x={246 + i * 59} y={72} color={s.color} size={30} />
          <text x={253 + i * 59} y={72} dy="0.35em" fontSize={20}>{s.label}</text>
        </g>
      ))}
      <text transform="translate(20,76) rotate(-90)" textAnchor="middle" dy="0.35em" fontSize={19.5}>枝城流量/(m³/s)</text>
      <text x={330} y={173} dy="0.35em" textAnchor="middle" fontSize={19.5}>(a1) 枝城站同水位下流量变化(三峡水库蓄水前)</text>
    </g>
  );
}

function PanelB1() {
  const x = d3.scaleLinear().domain([1955, 2005]).range([675, 968]);
  const y = d3.scaleLinear().domain([-130, 6000]).range([140, 18]);
  const sets: { years: number[]; vals: number[]; kind: "star" | "circle" | "tri"; color: string }[] = [
    { years: B1_YEARS, vals: SZ_39, kind: "star", color: BLACK },
    { years: B1_YEARS, vals: TP_35, kind: "star", color: RED },
    { years: B1_YEARS, vals: OC_33, kind: "star", color: BLUE },
    { years: B1_YEARS, vals: TP_37, kind: "circle", color: RED },
    { years: B1_YEARS, vals: SZ_43, kind: "circle", color: BLACK },
    { years: B1_YEARS, vals: OC_35, kind: "circle", color: BLUE },
    { years: B1_YEARS, vals: TP_30, kind: "tri", color: RED },
    { years: SZ_47_YEARS, vals: SZ_47, kind: "tri", color: BLACK },
    { years: OC_37_YEARS, vals: OC_37, kind: "tri", color: BLUE },
  ];
  const legendRows = [
    { name: "松滋口", color: BLACK, levels: ["39 m", "43 m", "47 m"], y: 53 },
    { name: "太平口", color: RED, levels: ["35 m", "37 m", "30 m"], y: 65 },
    { name: "藕池口", color: BLUE, levels: ["33 m", "35 m", "37 m"], y: 77 },
  ];
  const kinds: ("star" | "circle" | "tri")[] = ["star", "circle", "tri"];
  return (
    <g>
      {sets.map((s, k) =>
        s.vals.map((v, i) => (
          <Marker key={`${k}-${i}`} kind={s.kind} x={x(s.years[i])} y={y(v)} color={s.color} size={22} />
        )),
      )}
      <Frame x={x} y={y} xTicks={YEAR_TICKS} yTicks={B1_Y_TICKS} yearSuffix tickFont={18.5} />
      {legendRows.map((row) => (
        <g key={row.name}>
          <text x={838} y={row.y} dy="0.35em" fontSize={11}>{row.name}</text>
          {row.levels.map((lv, i) => (
            <g key={lv + i}>
              <Marker kind={kinds[i]} x={875 + i * 30} y={row.y} color={row.color} size={18} />
              <text x={879 + i * 30} y={row.y} dy="0.35em" fontSize={11.5}>{lv}</text>
            </g>
          ))}
        </g>
      ))}
      <text transform="translate(606,58) rotate(-90)" textAnchor="middle" dy="0.35em" fontSize={17}>三口分流</text>
      <text transform="translate(624,96) rotate(-90)" textAnchor="middle" dy="0.35em" fontSize={17}>流量/(m³/s)</text>
      <text x={826} y={173} dy="0.35em" textAnchor="middle" fontSize={19.5}>(b1) 三口口门同水位下流量变化(三峡水库蓄水前)</text>
    </g>
  );
}

export default function App() {
  return (
    <svg
      width={1045}
      height={799}
      style={{ position: "absolute", left: 0, top: 0, background: "#fff" }}
      fontFamily={SERIF}
      fill={INK}
    >
      <rect width={1045} height={799} fill="#fff" />
      <PanelA1 />
      <PanelB1 />
      {PANELS.map((p) => (
        <Profile key={p.caption[0]} spec={p} />
      ))}
    </svg>
  );
}
